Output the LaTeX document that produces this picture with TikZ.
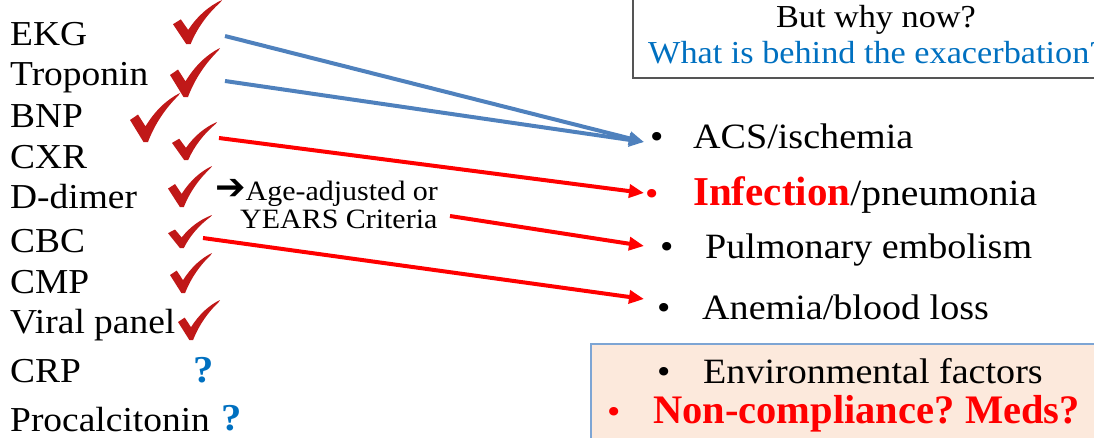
\documentclass[tikz,border=0pt]{standalone}
\usepackage{graphicx}
\usepackage{fontspec}
\setmainfont{Liberation Serif}[FakeStretch=1.07]
\newfontfamily\tnr{Liberation Serif}
\newfontfamily\dejavu{DejaVu Sans}
\usetikzlibrary{arrows.meta}
\definecolor{chkred}{RGB}{192,24,24}
\definecolor{qblue}{RGB}{0,112,192}
\definecolor{arrblue}{RGB}{79,129,189}
\definecolor{pureRed}{RGB}{255,0,0}
\definecolor{peach}{RGB}{252,233,220}
\definecolor{boxblue}{RGB}{125,165,212}
\definecolor{boxgray}{RGB}{85,85,85}
\newcommand{\checkmk}[4]{%
  \fill[chkred,shift={(#1,#2)},xscale=#3,yscale=#4]
    (0,0.55) -- (0.16,0.44) -- (0.31,0.68)
    .. controls (0.5,0.36) and (0.74,0.13) .. (1.0,0.0)
    -- (0.97,0.05)
    .. controls (0.72,0.3) and (0.5,0.62) .. (0.36,1.0)
    -- (0.27,1.0) -- cycle;}
\tikzset{
  lbl/.style={anchor=base west,inner sep=0pt,font=\fontsize{35}{40}\selectfont},
  rbl/.style={anchor=base west,inner sep=0pt,font=\fontsize{35.6}{40}\selectfont},
  qm/.style={anchor=base west,inner sep=0pt,text=qblue,font=\fontsize{38}{40}\selectfont\bfseries},
  blu/.style={draw=arrblue,line width=4pt,-{Triangle[length=15pt,width=13pt]}},
  rda/.style={draw=pureRed,line width=4pt,-{Triangle[length=15pt,width=13pt]}}
}
\begin{document}
\begin{tikzpicture}[x=1pt,y=-1pt]
\useasboundingbox (0,0) rectangle (1094,437);
\clip (0,0) rectangle (1094,437);
% left list
\node[lbl] (ekg) at (10,45) {EKG};
\node[lbl] (trop) at (10,85) {Troponin};
\node[lbl] (bnp) at (10,127) {BNP};
\node[lbl] (cxr) at (10,168) {CXR};
\node[lbl] (ddim) at (10,208) {D-dimer};
\node[lbl] (cbc) at (10,252) {CBC};
\node[lbl] (cmp) at (10,293) {CMP};
\node[lbl] (viral) at (10,333) {Viral panel};
\node[lbl] (crp) at (10,382) {CRP};
\node[lbl,font=\fontsize{35}{40}\selectfont] (proc) at (10,431) {Procalcitonin};
% check marks
\checkmk{173}{0}{49}{44}
\checkmk{170}{48}{50}{49}
\checkmk{130}{93}{50}{49}
\checkmk{172}{122}{45}{38}
\checkmk{168}{166}{44}{41}
\checkmk{168}{215}{44}{33}
\checkmk{170}{253}{42}{40}
\checkmk{178}{300}{42}{40}
% question marks
\node[qm] (q1) at (193,382) {?};
\node[qm] (q2) at (221,430) {?};
% d-dimer note
\node[anchor=base west,inner sep=0pt,font=\fontsize{28}{30}\selectfont] (age) at (215,200) {\raisebox{1pt}{\scalebox{1.35}{\dejavu\fontsize{27}{28}\selectfont ➔}}Age-adjusted or};
\node[anchor=base west,inner sep=0pt,font=\fontsize{28}{30}\selectfont] (years) at (240,228) {YEARS Criteria};
% top box
\draw[boxgray,line width=1.5pt] (633,-5) rectangle (1100,78);
\node[anchor=base,inner sep=0pt,font=\fontsize{32}{36}\selectfont] (why) at (876,27) {But why now?};
\node[anchor=base west,inner sep=0pt,text=qblue,font=\fontsize{32}{36}\selectfont] (behind) at (648,63) {What is behind the exacerbation?};
% bottom box
\draw[boxblue,fill=peach,line width=1.2pt] (591,344) rectangle (1100,445);
% right bullets
\node[rbl] (b1) at (650,148) {•};
\node[rbl] (acs) at (693,148) {ACS/ischemia};
\node[rbl,text=pureRed] (b2) at (645,205) {•};
\node[rbl,font=\fontsize{37}{40}\selectfont] (inf) at (693,205) {{\tnr\bfseries\fontsize{41}{40}\selectfont\color{pureRed}Infection}/pneumonia};
\node[rbl] (b3) at (660,258) {•};
\node[rbl] (pe) at (705,258) {Pulmonary embolism};
\node[rbl] (b4) at (657,319) {•};
\node[rbl] (anem) at (702,319) {Anemia/blood loss};
\node[rbl] (b5) at (657,383) {•};
\node[rbl] (env) at (703,383) {Environmental factors};
\node[rbl,text=pureRed] (b6) at (607,423) {•};
\node[anchor=base west,inner sep=0pt,text=pureRed,font=\tnr\bfseries\fontsize{40.5}{40}\selectfont] (nonc) at (653,423) {Non-compliance?\hspace{-3pt} Meds?};
% connector end points
\coordinate (sEKG) at (225,36);
\coordinate (sTrop) at (225,81);
\coordinate (sCXR) at (219,138);
\coordinate (sYrs) at (450,216);
\coordinate (sCBC) at (203,238);
\coordinate (eACS) at (644,142);
\coordinate (eInf) at (644,193);
\coordinate (ePE) at (644,246);
\coordinate (eAn) at (644,299);
\draw[blu] (sEKG) -- (eACS);
\draw[blu] (sTrop) -- (eACS);
\draw[rda] (sCXR) -- (eInf);
\draw[rda] (sYrs) -- (ePE);
\draw[rda] (sCBC) -- (eAn);
\end{tikzpicture}
\end{document}
